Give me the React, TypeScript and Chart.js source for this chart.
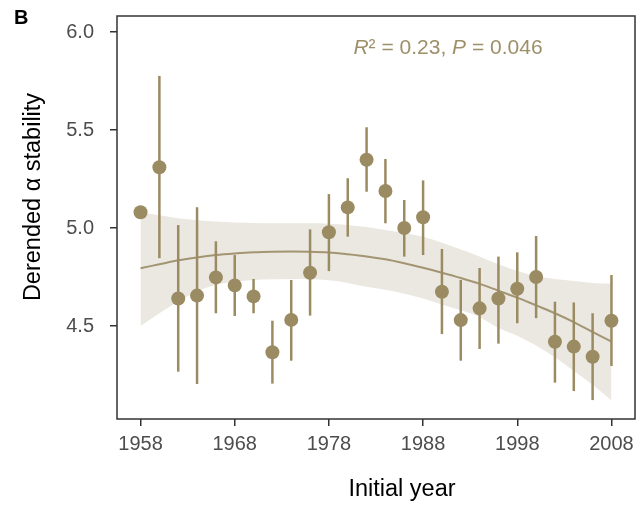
import React, { useEffect, useRef } from "react";
import { Chart, registerables } from "chart.js";

Chart.register(...registerables);

// ---- data ----
const years = [1958, 1960, 1962, 1964, 1966, 1968, 1970, 1972, 1974, 1976, 1978, 1980, 1982,
  1984, 1986, 1988, 1990, 1992, 1994, 1996, 1998, 2000, 2002, 2004, 2006, 2008];
const stability = [5.08, 5.31, 4.64, 4.655, 4.748, 4.707, 4.651, 4.366, 4.531, 4.772, 4.978, 5.105, 5.348,
  5.189, 5.0, 5.055, 4.675, 4.53, 4.59, 4.64, 4.69, 4.75, 4.42, 4.395, 4.343, 4.527];
const lowerCI = [null, 4.846, 4.267, 4.204, 4.565, 4.551, 4.565, 4.206, 4.323, 4.553, 4.78, 4.956, 5.185,
  5.024, 4.854, 4.862, 4.459, 4.323, 4.383, 4.41, 4.514, 4.54, 4.211, 4.168, 4.122, 4.296];
const upperCI = [null, 5.776, 5.015, 5.106, 4.932, 4.862, 4.74, 4.527, 4.735, 4.993, 5.173, 5.254, 5.514,
  5.352, 5.143, 5.243, 4.893, 4.735, 4.796, 4.854, 4.876, 4.959, 4.624, 4.62, 4.565, 4.76];

const fitLine = [4.795, 4.815, 4.835, 4.85, 4.862, 4.87, 4.876, 4.879, 4.88, 4.879, 4.875, 4.866, 4.855,
  4.84, 4.82, 4.797, 4.772, 4.745, 4.715, 4.68, 4.645, 4.605, 4.565, 4.52, 4.47, 4.42];
const fitUpper = [5.08, 5.065, 5.05, 5.04, 5.033, 5.028, 5.025, 5.024, 5.024, 5.024, 5.022, 5.015, 5.005,
  4.99, 4.975, 4.955, 4.925, 4.89, 4.855, 4.815, 4.78, 4.755, 4.74, 4.73, 4.72, 4.715];
const fitLower = [4.5, 4.565, 4.625, 4.675, 4.71, 4.726, 4.735, 4.738, 4.74, 4.738, 4.733, 4.72, 4.70,
  4.685, 4.665, 4.64, 4.61, 4.58, 4.545, 4.49, 4.45, 4.40, 4.34, 4.27, 4.20, 4.12];

const xTicks = [1958, 1968, 1978, 1988, 1998, 2008];
const yTicks = [4.5, 5.0, 5.5, 6.0];

const POINT_COLOR = "#9b8b62";
const LINE_COLOR = "#a39572";
const BAND_COLOR = "#ebe8e2";
const TEXT_COLOR = "#9d9069";
const FONT = "'Liberation Sans', Arial, sans-serif";

const errorBarPlugin = {
  id: "errorBars",
  beforeDatasetDraw(chart: any, args: any) {
    if (args.index !== 3) return;
    const { ctx, scales } = chart;
    const x = scales.x, y = scales.y;
    ctx.save();
    ctx.strokeStyle = POINT_COLOR;
    ctx.lineWidth = 2.5;
    years.forEach((yr, i) => {
      const lo = lowerCI[i], hi = upperCI[i];
      if (lo == null || hi == null) return;
      const px = x.getPixelForValue(yr);
      ctx.beginPath();
      ctx.moveTo(px, y.getPixelForValue(lo));
      ctx.lineTo(px, y.getPixelForValue(hi));
      ctx.stroke();
    });
    ctx.restore();
  },
};

const decorPlugin = {
  id: "decor",
  afterDraw(chart: any) {
    const { ctx, chartArea } = chart;
    ctx.save();
    // frame
    ctx.strokeStyle = "#333333";
    ctx.lineWidth = 1.5;
    ctx.strokeRect(chartArea.left, chartArea.top, chartArea.right - chartArea.left, chartArea.bottom - chartArea.top);

    // panel letter
    ctx.fillStyle = "#000000";
    ctx.font = `bold 20px ${FONT}`;
    ctx.textAlign = "left";
    ctx.textBaseline = "alphabetic";
    ctx.fillText("B", 14, 24);

    // axis titles
    ctx.font = `23.5px ${FONT}`;
    ctx.textAlign = "center";
    ctx.textBaseline = "middle";
    ctx.fillText("Initial year", 402, 490);
    ctx.save();
    ctx.translate(34, 197);
    ctx.rotate(-Math.PI / 2);
    ctx.fillText("Derended \u03b1 stability", 0, 0);
    ctx.restore();

    // annotation
    const parts: [string, boolean][] = [["R", true], ["\u00b2 = 0.23, ", false], ["P", true], [" = 0.046", false]];
    const size = 21;
    let total = 0;
    const widths = parts.map(([t, it]) => {
      ctx.font = `${it ? "italic " : ""}${size}px ${FONT}`;
      const w = ctx.measureText(t).width;
      total += w;
      return w;
    });
    let cx = 448 - total / 2;
    ctx.fillStyle = TEXT_COLOR;
    ctx.textAlign = "left";
    ctx.textBaseline = "alphabetic";
    parts.forEach(([t, it], i) => {
      ctx.font = `${it ? "italic " : ""}${size}px ${FONT}`;
      ctx.fillText(t, cx, 54);
      cx += widths[i];
    });
    ctx.restore();
  },
};

export default function App() {
  const canvasRef = useRef<HTMLCanvasElement | null>(null);

  useEffect(() => {
    document.body.style.margin = "0";
    const canvas = canvasRef.current;
    if (!canvas) return;
    const pts = (vals: (number | null)[]) => years.map((yr, i) => ({ x: yr, y: vals[i] }));
    const chart = new Chart(canvas, {
      type: "line",
      data: {
        datasets: [
          {
            label: "upper",
            data: pts(fitUpper),
            order: 4,
            borderWidth: 0,
            pointRadius: 0,
            fill: "+1",
            backgroundColor: BAND_COLOR,
            borderColor: "rgba(0,0,0,0)",
            cubicInterpolationMode: "monotone",
          },
          {
            label: "lower",
            data: pts(fitLower),
            order: 3,
            borderWidth: 0,
            pointRadius: 0,
            fill: false,
            borderColor: "rgba(0,0,0,0)",
            cubicInterpolationMode: "monotone",
          },
          {
            label: "fit",
            data: pts(fitLine),
            order: 2,
            borderWidth: 2,
            borderColor: LINE_COLOR,
            pointRadius: 0,
            fill: false,
            cubicInterpolationMode: "monotone",
          },
          {
            label: "stability",
            data: pts(stability),
            order: 1,
            showLine: false,
            pointRadius: 7,
            pointHoverRadius: 7,
            pointBackgroundColor: POINT_COLOR,
            pointBorderWidth: 0,
            borderColor: POINT_COLOR,
            backgroundColor: POINT_COLOR,
          },
        ],
      } as any,
      options: {
        responsive: false,
        animation: false,
        devicePixelRatio: 1,
        layout: { padding: { top: 16, right: 8, left: 0, bottom: 0 } },
        plugins: {
          legend: { display: false },
          tooltip: { enabled: false },
          title: { display: false },
        },
        scales: {
          x: {
            type: "linear",
            min: 1955.5,
            max: 2010.5,
            afterBuildTicks: (scale: any) => {
              scale.ticks = xTicks.map((v) => ({ value: v }));
            },
            afterFit: (scale: any) => {
              scale.height = 90;
            },
            grid: {
              display: true,
              drawOnChartArea: false,
              drawTicks: true,
              tickLength: 7,
              color: "#333333",
              lineWidth: 1.5,
            },
            border: { display: false },
            ticks: {
              autoSkip: false,
              maxRotation: 0,
              padding: 6,
              color: "#4d4d4d",
              font: { family: FONT, size: 20 },
              callback: (v: any) => String(v),
            },
          },
          y: {
            type: "linear",
            min: 4.0255,
            max: 6.0816,
            afterBuildTicks: (scale: any) => {
              scale.ticks = yTicks.map((v) => ({ value: v }));
            },
            afterFit: (scale: any) => {
              scale.width = 117;
              scale.paddingTop = 0;
              scale.paddingBottom = 0;
            },
            grid: {
              display: true,
              drawOnChartArea: false,
              drawTicks: true,
              tickLength: 7,
              color: "#333333",
              lineWidth: 1.5,
            },
            border: { display: false },
            ticks: {
              padding: 16,
              color: "#4d4d4d",
              font: { family: FONT, size: 20, lineHeight: 0.5 },
              callback: (v: any) => Number(v).toFixed(1),
            },
          },
        },
      } as any,
      plugins: [errorBarPlugin, decorPlugin],
    });
    return () => chart.destroy();
  }, []);

  return (
    <div style={{ position: "absolute", left: 0, top: 0, width: 643, height: 509, background: "#ffffff" }}>
      <canvas ref={canvasRef} width={643} height={509} style={{ display: "block", width: 643, height: 509 }} />
    </div>
  );
}
